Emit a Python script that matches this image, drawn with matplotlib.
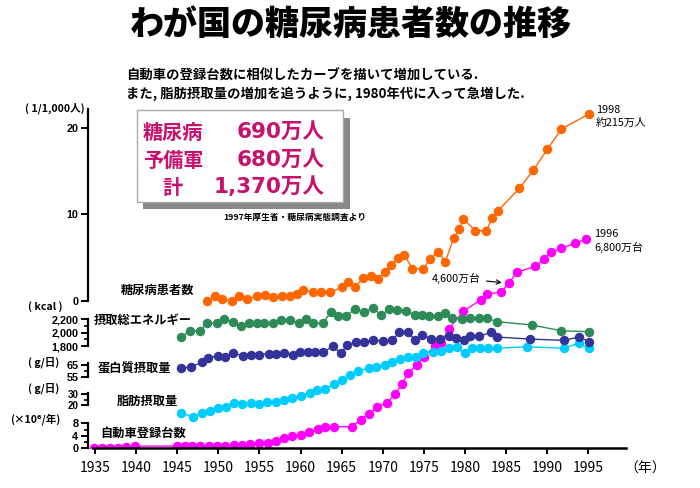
import matplotlib
matplotlib.use('Agg')
import matplotlib.pyplot as plt
from matplotlib.patches import Rectangle

plt.rcParams['font.family'] = ['Noto Sans CJK JP', 'DejaVu Sans']

# ---- data ----
pat_years = [1948.6, 1949.6, 1950.4, 1951.6, 1952.5, 1953.5, 1954.7, 1955.7, 1956.7, 1957.7,
             1958.7, 1959.6, 1960.3, 1961.5, 1962.5, 1963.6, 1965.0, 1965.8, 1966.6, 1967.6,
             1968.5, 1969.4, 1970.2, 1971.0, 1971.9, 1972.6, 1973.6, 1974.9, 1975.7, 1976.7,
             1977.6, 1978.6, 1979.3, 1979.8, 1981.2, 1982.6, 1983.3, 1984.0, 1986.6, 1988.3,
             1990.0, 1991.7, 1995.1]
pat_vals = [0.0, 0.54, 0.16, 0.0, 0.54, 0.16, 0.54, 0.66, 0.46, 0.54,
            0.54, 0.77, 1.24, 0.97, 0.97, 0.97, 1.55, 2.2, 1.55, 2.6,
            2.8, 2.5, 3.3, 4.1, 4.9, 5.3, 3.7, 3.66, 4.79, 5.67,
            4.51, 7.2, 8.29, 9.45, 8.1, 8.1, 9.6, 10.4, 13.0, 15.1,
            17.5, 19.85, 21.6]

kcal_years = [1945.5, 1946.5, 1947.8, 1948.6, 1949.8, 1950.7, 1951.8, 1952.7, 1953.7, 1954.7,
              1955.6, 1956.6, 1957.6, 1958.7, 1959.8, 1960.7, 1961.5, 1962.7, 1963.7, 1964.6,
              1965.5, 1966.6, 1967.7, 1968.8, 1969.8, 1970.8, 1971.7, 1972.8, 1973.9, 1974.8,
              1975.6, 1976.7, 1977.6, 1978.4, 1979.6, 1980.6, 1981.7, 1982.7, 1983.9, 1988.1,
              1991.7, 1995.1]
kcal_vals = [1930, 2029, 2029, 2140, 2140, 2200, 2164, 2104, 2140, 2140,
             2140, 2140, 2190, 2190, 2140, 2205, 2140, 2140, 2314, 2254,
             2254, 2350, 2305, 2365, 2264, 2354, 2340, 2330, 2264, 2264,
             2250, 2250, 2290, 2215, 2200, 2215, 2215, 2215, 2164, 2115,
             2029, 2014]

prot_years = [1945.5, 1946.7, 1948.0, 1948.8, 1949.9, 1950.8, 1951.8, 1953.0, 1954.0, 1955.0,
              1956.1, 1957.0, 1958.0, 1959.1, 1959.9, 1960.9, 1961.7, 1962.7, 1963.9, 1964.9,
              1965.7, 1966.7, 1967.7, 1968.8, 1970.0, 1971.1, 1972.0, 1973.0, 1973.9, 1974.8,
              1975.9, 1976.9, 1978.0, 1978.9, 1979.9, 1980.6, 1981.7, 1983.1, 1983.9, 1987.9,
              1992.0, 1993.8, 1995.1]
prot_vals = [62.3, 63.6, 67.2, 70.4, 72.6, 71.7, 74.5, 72.6, 73.4, 73.4,
             74.2, 74.2, 74.7, 73.4, 75.2, 75.2, 75.2, 75.2, 80.1, 74.7,
             81.5, 83.3, 84.1, 85.0, 84.7, 85.0, 91.5, 91.5, 85.5, 89.6,
             86.1, 86.1, 88.2, 86.6, 85.5, 88.8, 88.2, 91.5, 87.7, 86.1,
             85.0, 87.7, 84.1]

fat_years = [1945.5, 1946.9, 1948.0, 1949.0, 1950.0, 1950.9, 1951.9, 1952.9, 1954.0, 1955.0,
             1955.9, 1957.0, 1958.0, 1959.0, 1960.0, 1961.1, 1962.0, 1963.0, 1964.0, 1965.0,
             1966.0, 1967.0, 1968.3, 1969.2, 1970.2, 1971.1, 1972.1, 1973.1, 1974.0, 1974.9,
             1976.1, 1977.1, 1978.0, 1979.0, 1980.0, 1980.8, 1981.8, 1982.8, 1983.9, 1987.5,
             1992.0, 1993.8, 1995.1]
fat_vals = [12.4, 9.4, 13.0, 14.8, 17.0, 18.5, 21.5, 20.6, 21.5, 20.9,
            23.0, 22.4, 24.5, 26.1, 28.2, 30.6, 33.6, 34.2, 39.1, 42.7,
            47.3, 51.2, 53.4, 54.8, 56.4, 59.4, 61.5, 63.9, 63.9, 67.6,
            68.5, 69.4, 72.1, 72.5, 67.0, 71.6, 71.6, 71.6, 71.6, 73.0,
            71.6, 76.2, 71.6]

car_years = [1934.9, 1935.9, 1936.8, 1937.8, 1938.8, 1939.9, 1945.0, 1945.9, 1946.8, 1947.8,
             1948.9, 1949.8, 1950.8, 1951.9, 1952.9, 1953.9, 1955.0, 1956.0, 1957.0, 1958.0,
             1959.0, 1960.0, 1961.0, 1962.1, 1963.0, 1964.1, 1966.2, 1967.3, 1968.3, 1969.3,
             1970.5, 1971.5, 1972.3, 1973.1, 1974.1, 1975.0, 1976.3, 1977.1, 1978.0, 1979.8,
             1981.9, 1982.7, 1984.4, 1985.3, 1986.3, 1988.5, 1989.6, 1990.5, 1991.7, 1993.4,
             1994.7]
car_vals = [0, 0, 0, 0.2, 0.5, 0.7, 0.7, 0.7, 0.7, 0.7,
            0.7, 0.7, 0.85, 1.2, 0.95, 1.5, 1.85, 1.7, 2.3, 3.2,
            3.9, 4.3, 5.1, 6.1, 6.9, 6.9, 6.9, 9.1, 11.0, 13.1,
            14.6, 17.3, 20.5, 24.0, 26.7, 29.3, 32.7, 33.6, 38.2, 43.9,
            47.5, 49.4, 50.0, 52.8, 56.3, 58.2, 60.6, 62.8, 64.0, 65.6,
            67.0]

x_ticks = list(range(1935, 2000, 5))

# ---- layout ----
W, H = 700, 488
fig = plt.figure(figsize=(7, 4.88), dpi=100)
fig.patch.set_facecolor('white')

PX_L, PX_R, PX_T, PX_B = 88, 625.5, 100, 448.3
X0, X1 = 1934.15, 1999.5
rect = [PX_L / W, 1 - PX_B / H, (PX_R - PX_L) / W, (PX_B - PX_T) / H]


def fp(x, y):
    """pixel (from top-left) -> figure fraction"""
    return x / W, 1 - y / H


def band_axes(v_ref, px_ref, ppu, bounds, major, labels, minor, base=False, lsize=7.8):
    ax = fig.add_axes(rect, facecolor='none')
    ax.set_xlim(X0, X1)
    ax.set_ylim(v_ref - (PX_B - px_ref) / ppu, v_ref + (px_ref - PX_T) / ppu)
    ax.spines['top'].set_visible(False)
    ax.spines['right'].set_visible(False)
    if not base:
        ax.spines['bottom'].set_visible(False)
        ax.tick_params(axis='x', which='both', bottom=False, labelbottom=False)
    ax.spines['left'].set_bounds(*bounds)
    ax.spines['left'].set_linewidth(1.6)
    ax.set_yticks(major)
    ax.set_yticklabels(labels, fontweight='bold', family='Liberation Sans')
    ax.set_yticks(minor, minor=True)
    ax.tick_params(axis='y', which='major', length=5, width=1.4, labelsize=lsize, pad=2)
    ax.tick_params(axis='y', which='minor', length=3, width=1.2)
    return ax


mk = dict(marker='o', markersize=5.8, linewidth=1.0)

# cars (base axis with the year axis)
ax_car = band_axes(0, 448.3, 3.125, (0, 8.2), [0, 4, 8], ['0', '4', '8'], [2, 6], base=True)
ax_car.spines['bottom'].set_bounds(1934.8, 1999.5)
ax_car.spines['bottom'].set_linewidth(1.8)
ax_car.set_xticks(x_ticks)
ax_car.set_xticklabels([str(t) for t in x_ticks])
ax_car.tick_params(axis='x', length=4, width=1.4, labelsize=10, pad=5)
ax_car.plot(car_years, car_vals, color='#FF00FF', **mk)

ax_fat = band_axes(20, 405, 1.1, (20, 31), [20, 30], ['20', '30'], [25], lsize=7)
ax_fat.plot(fat_years, fat_vals, color='#00CCFF', **mk)

ax_prot = band_axes(65, 365, 1.23, (55, 67), [55, 65], ['55', '65'], [60])
ax_prot.plot(prot_years, prot_vals, color='#333399', **mk)

ax_kcal = band_axes(2200, 319.3, 26.7 / 400, (1800, 2200), [1800, 2000, 2200],
                    ['1,800', '2,000', '2,200'], [1900, 2100])
ax_kcal.plot(kcal_years, kcal_vals, color='#2E8B57', **mk)

ax_pat = band_axes(0, 300.7, 8.65, (0, 22.2), [0, 10, 20], ['0', '10', '20'], [])
ax_pat.plot(pat_years, pat_vals, color='#FF6600', **mk)

# ---- texts ----
fig.text(*fp(351, 24), 'わが国の糖尿病患者数の推移', ha='center', va='center',
         fontsize=24.5, fontweight='heavy')
fig.text(*fp(126, 76), '自動車の登録台数に相似したカーブを描いて増加している.',
         ha='left', va='center', fontsize=9.6, fontweight='bold')
fig.text(*fp(126, 94), 'また, 脂肪摂取量の増加を追うように, 1980年代に入って急増した.',
         ha='left', va='center', fontsize=9.6, fontweight='bold')

# summary box with shadow
x, y = fp(143, 209)
fig.add_artist(Rectangle((x, y), 207 / W, 91 / H, transform=fig.transFigure,
                         facecolor='#888888', edgecolor='none'))
x, y = fp(137, 202)
fig.add_artist(Rectangle((x, y), 206 / W, 92 / H, transform=fig.transFigure,
                         facecolor='white', edgecolor='#aaaaaa', linewidth=1))
pink = '#C8106E'
box_kw = dict(va='center', fontsize=14.5, fontweight='bold', color=pink)
num_kw = dict(va='center', ha='right', fontsize=15.5, fontweight='bold', color=pink,
              family=['DejaVu Sans', 'Noto Sans CJK JP'])
fig.text(*fp(143, 132), '糖尿病', ha='left', **box_kw)
fig.text(*fp(324, 132), '690万人', **num_kw)
fig.text(*fp(143, 160), '予備軍', ha='left', **box_kw)
fig.text(*fp(324, 160), '680万人', **num_kw)
fig.text(*fp(172, 187), '計', ha='center', **box_kw)
fig.text(*fp(324, 187), '1,370万人', **num_kw)
fig.text(*fp(366, 217), '1997年厚生省・糖尿病実態調査より', ha='right', va='center',
         fontsize=6.3, fontweight='bold', style='italic')

# series names
lab_kw = dict(ha='left', va='center', fontsize=8.8, fontweight='bold')
fig.text(*fp(121, 290), '糖尿病患者数', **lab_kw)
fig.text(*fp(94, 320), '摂取総エネルギー', **lab_kw)
fig.text(*fp(98, 369), '蛋白質摂取量', **lab_kw)
fig.text(*fp(117, 401), '脂肪摂取量', **lab_kw)
fig.text(*fp(100, 433), '自動車登録台数', **lab_kw)

# unit labels
unit_kw = dict(ha='center', va='center', fontsize=7.6, fontweight='bold')
fig.text(*fp(55, 108), '( 1/1,000人)', **unit_kw)
fig.text(*fp(45, 307), '( kcal )', **unit_kw)
fig.text(*fp(44, 362), '( g/日)', **unit_kw)
fig.text(*fp(44, 388), '( g/日)', **unit_kw)
fig.text(*fp(35, 419), '(×10⁶/年)', **unit_kw)
fig.text(*fp(645, 469), '（年）', ha='center', va='center', fontsize=10)

# end-point notes
note_kw = dict(ha='left', va='center', fontsize=7.8)
fig.text(*fp(596, 110), '1998', **note_kw)
fig.text(*fp(596, 123), '約215万人', **note_kw)
fig.text(*fp(594, 234), '1996', **note_kw)
fig.text(*fp(594, 247), '6,800万台', **note_kw)

i85 = car_years.index(1985.3)
ax_car.annotate('4,600万台', xy=(car_years[i85], car_vals[i85]),
                xytext=fp(432, 278), textcoords='figure fraction',
                ha='left', va='center', fontsize=7.8,
                arrowprops=dict(arrowstyle='->', color='black', lw=0.8,
                                shrinkA=2, shrinkB=5))

fig.savefig('out.png', dpi=100)
